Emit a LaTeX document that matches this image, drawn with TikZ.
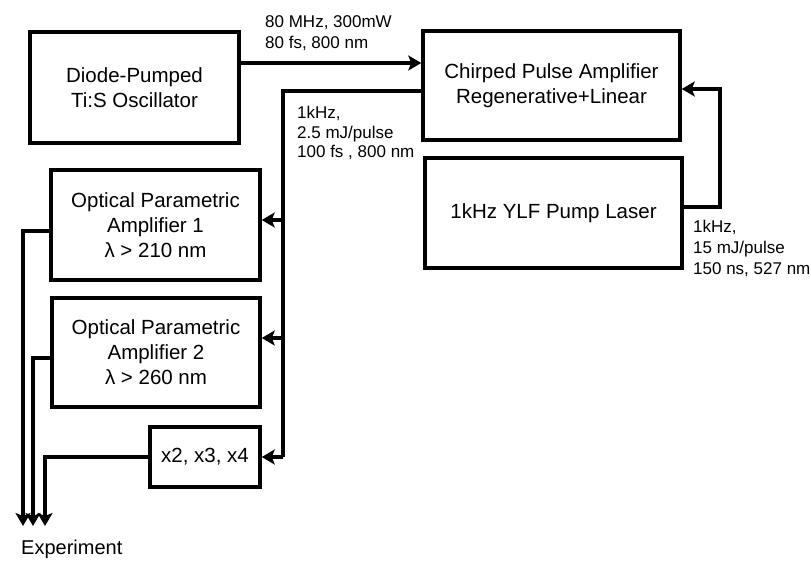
\documentclass[tikz,border=0pt]{standalone}
\usepackage{fontspec}
\setmainfont{Liberation Sans}
\usetikzlibrary{arrows.meta}
\tikzset{
  box/.style={draw, line width=3.5pt, rectangle, align=center, inner sep=0pt,
    font=\fontsize{20.5}{25}\selectfont},
  lab/.style={align=left, inner sep=0pt, anchor=north west,
    font=\fontsize{17}{21}\selectfont},
  arr/.style={line width=3.5pt, -{Stealth[length=13pt,width=15pt,inset=3pt]}},
  ln/.style={line width=3.5pt}
}
\begin{document}
\begin{tikzpicture}[x=1pt,y=-1pt]
\useasboundingbox (0,0) rectangle (811,565);
\node[box, minimum width=209pt, minimum height=111pt] (osc) at (134.5,87.5) {Diode-Pumped\\Ti:S Oscillator};
\node[box, minimum width=257pt, minimum height=109pt] (cpa) at (551.5,85.5) {Chirped Pulse Amplifier\\Regenerative+Linear};
\node[box, minimum width=257pt, minimum height=110pt] (ylf) at (553.5,213) {1kHz YLF Pump Laser};
\node[box, minimum width=209pt, minimum height=110pt] (opa1) at (155.5,225) {Optical Parametric\\Amplifier 1\\λ > 210 nm};
\node[box, minimum width=208pt, minimum height=109pt] (opa2) at (156,352.5) {Optical Parametric\\Amplifier 2\\λ > 260 nm};
\node[box, minimum width=110pt, minimum height=60pt] (harm) at (205,457) {x2, x3, x4};

% oscillator to CPA
\coordinate (o1) at (300,63);
\draw[arr] (osc.east |- o1) -- (cpa.west |- o1);
\node[lab] (l1) at (265,15) {80 MHz, 300mW\\80 fs, 800 nm};

% CPA output bus
\coordinate (b0) at (283,91);
\coordinate (b1) at (283,220);
\coordinate (b2) at (283,338);
\coordinate (b3) at (283,457);
\draw[ln] (cpa.west |- b0) -- (b0) -- (b3);
\draw[arr] (b1) -- (opa1.east |- b1);
\draw[arr] (b2) -- (opa2.east |- b2);
\draw[arr] (b3) -- (harm.east |- b3);
\node[lab, font=\fontsize{17}{19.5}\selectfont] (l2) at (297,106) {1kHz,\\2.5 mJ/pulse\\100 fs , 800 nm};

% pump
\coordinate (p0) at (720,207);
\coordinate (p1) at (720,89);
\draw[arr] (ylf.east |- p0) -- (p0) -- (p1) -- (cpa.east |- p1);
\node[lab] (l3) at (693,220) {1kHz,\\15 mJ/pulse\\150 ns, 527 nm};

% outputs to experiment
\coordinate (e1) at (23,231);
\coordinate (e2) at (33,358);
\coordinate (e3) at (45,457);
\coordinate (f1) at (23,526);
\coordinate (f2) at (33,526);
\coordinate (f3) at (45,526);
\draw[arr] (opa1.west |- e1) -- (e1) -- (f1);
\draw[arr] (opa2.west |- e2) -- (e2) -- (f2);
\draw[arr] (harm.west |- e3) -- (e3) -- (f3);
\node[lab, font=\fontsize{20}{24}\selectfont] (exp) at (21,540) {Experiment};
\end{tikzpicture}
\end{document}
